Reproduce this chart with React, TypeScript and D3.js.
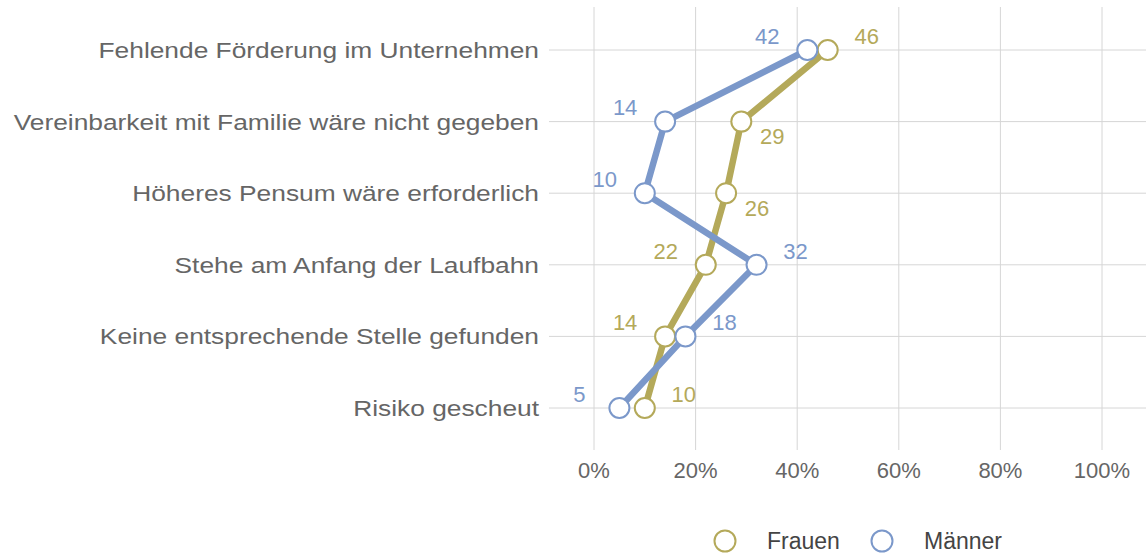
import React from "react";
import * as d3 from "d3";

const categories = [
  "Fehlende Förderung im Unternehmen",
  "Vereinbarkeit mit Familie wäre nicht gegeben",
  "Höheres Pensum wäre erforderlich",
  "Stehe am Anfang der Laufbahn",
  "Keine entsprechende Stelle gefunden",
  "Risiko gescheut",
];
const frauen = [46, 29, 26, 22, 14, 10];
const maenner = [42, 14, 10, 32, 18, 5];
const frauenLabelBelow = [false, true, true, false, false, false];
const xTicks = [0, 20, 40, 60, 80, 100];
const seriesNames = ["Frauen", "Männer"];

const W = 1146;
const H = 554;
const COLORS = { Frauen: "#b4a95a", Männer: "#7b98ca" };
const FONT = "'Liberation Sans', Arial, Helvetica, sans-serif";

export default function App() {
  const x = d3.scaleLinear().domain([0, 100]).range([594, 1102]);
  const y = d3.scalePoint<string>().domain(categories).range([50, 408]);
  const line = d3
    .line<[string, number]>()
    .x((d) => x(d[1]))
    .y((d) => y(d[0]) as number);

  const series = [
    { name: "Frauen", values: frauen },
    { name: "Männer", values: maenner },
  ];

  return (
    <div style={{ position: "absolute", left: 0, top: 0 }}>
      <svg width={W} height={H} style={{ display: "block", fontFamily: FONT }}>
        <rect width={W} height={H} fill="#fff" />
        {xTicks.map((t) => (
          <line key={"vg" + t} x1={x(t)} x2={x(t)} y1={7} y2={450} stroke="#d6d6d6" strokeWidth={1} />
        ))}
        {categories.map((c) => (
          <line key={"hg" + c} x1={549} x2={W} y1={y(c)} y2={y(c)} stroke="#d6d6d6" strokeWidth={1} />
        ))}
        {categories.map((c) => (
          <text
            key={"yl" + c}
            transform={`translate(539,${y(c)}) scale(1.16,1)`}
            dy="0.35em"
            textAnchor="end"
            fontSize={22.7}
            fill="#666"
          >
            {c}
          </text>
        ))}
        {xTicks.map((t) => (
          <text key={"xl" + t} x={x(t)} y={470} dy="0.35em" textAnchor="middle" fontSize={22} fill="#666">
            {t}%
          </text>
        ))}
        {series.map((s) => (
          <path
            key={"ln" + s.name}
            d={line(categories.map((c, i) => [c, s.values[i]]) as [string, number][]) || ""}
            fill="none"
            stroke={COLORS[s.name as keyof typeof COLORS]}
            strokeWidth={6.5}
            strokeLinejoin="round"
          />
        ))}
        {series.map((s) =>
          categories.map((c, i) => (
            <circle
              key={"pt" + s.name + i}
              cx={x(s.values[i])}
              cy={y(c)}
              r={10}
              fill="#fff"
              stroke={COLORS[s.name as keyof typeof COLORS]}
              strokeWidth={2}
            />
          ))
        )}
        {series.map((s, si) =>
          categories.map((c, i) => {
            const other = si === 0 ? maenner[i] : frauen[i];
            const right = s.values[i] >= other;
            const below = si === 0 && frauenLabelBelow[i];
            const dx = below ? 31 : right ? 39 : -40;
            const dy = below ? 15 : -14;
            return (
              <text
                key={"lb" + s.name + i}
                x={x(s.values[i]) + dx}
                y={(y(c) as number) + dy}
                dy="0.35em"
                textAnchor="middle"
                fontSize={22}
                fill={COLORS[s.name as keyof typeof COLORS]}
              >
                {s.values[i]}
              </text>
            );
          })
        )}
        {seriesNames.map((n, i) => {
          const cx = i === 0 ? 725 : 882;
          return (
            <g key={"lg" + n}>
              <circle cx={cx} cy={541} r={10.5} fill="#fff" stroke={COLORS[n as keyof typeof COLORS]} strokeWidth={2} />
              <text x={cx + 42} y={541} dy="0.35em" fontSize={23} fill="#444">
                {n}
              </text>
            </g>
          );
        })}
      </svg>
    </div>
  );
}
